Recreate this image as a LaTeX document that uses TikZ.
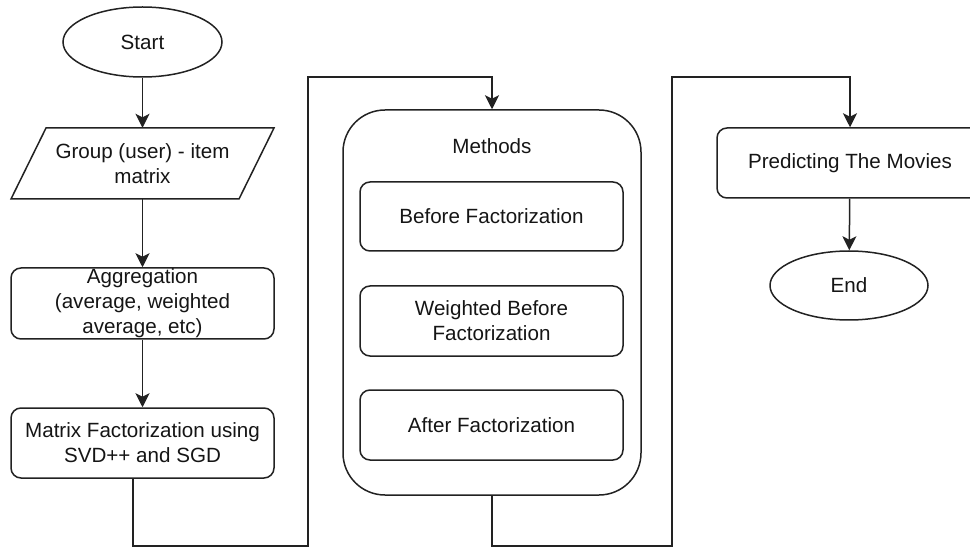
\documentclass[tikz,border=0pt]{standalone}
\usepackage{fontspec}
\setmainfont{Liberation Sans}
\usetikzlibrary{shapes.geometric,arrows.meta}
\definecolor{ln}{HTML}{222222}
\definecolor{tx}{HTML}{151515}
\tikzset{
  base/.style={draw=ln, line width=1.5pt, inner sep=0pt, text=tx, align=center,
    font=\fontsize{20.6}{25}\selectfont},
  term/.style={base, ellipse},
  proc/.style={base, rectangle, rounded corners=10pt},
  grp/.style={base, rectangle, rounded corners=42pt},
  ghost/.style={rectangle, inner sep=0pt, text=tx, align=center,
    font=\fontsize{20.6}{25}\selectfont},
  conn/.style={draw=ln, line width=1.5pt, -{Stealth[length=14pt,width=14pt,inset=3.5pt]}},
  plain/.style={draw=ln, line width=1.5pt}
}
\begin{document}
\begin{tikzpicture}[x=1pt,y=-1pt]
\useasboundingbox (0,0) rectangle (970,548);
% left column
\node[term, minimum width=159pt, minimum height=70pt] (start) at (142.5,42) {Start};
\node[ghost, minimum width=263pt, minimum height=71pt] (group) at (142.5,163.5) {Group (user) - item\\matrix};
\draw[plain] (46,128) -- (274,128) -- (239,199) -- (11,199) -- cycle;
\node[proc, minimum width=263pt, minimum height=71pt] (agg) at (142.5,303.5) {Aggregation\\(average, weighted\\average, etc)};
\node[proc, minimum width=263pt, minimum height=70pt] (mf) at (142.5,443) {Matrix Factorization using\\SVD++ and SGD};
% methods group
\node[grp, minimum width=298pt, minimum height=385pt] (methods) at (492,302.5) {};
\node[ghost] (mlabel) at (492,146) {Methods};
\node[proc, minimum width=263pt, minimum height=69pt] (m1) at (491.5,216.5) {Before Factorization};
\node[proc, minimum width=263pt, minimum height=70pt] (m2) at (491.5,321) {Weighted Before\\Factorization};
\node[proc, minimum width=263pt, minimum height=70pt] (m3) at (491.5,425) {After Factorization};
% right column
\node[proc, minimum width=266pt, minimum height=70pt] (pred) at (850,163) {Predicting The Movies};
\node[term, minimum width=158pt, minimum height=69pt] (end) at (849,285.5) {End};
% routing points
\coordinate (b1) at (133,546);
\coordinate (b2) at (308,546);
\coordinate (t1) at (308,77);
\coordinate (b3) at (492,546);
\coordinate (b4) at (672,546);
\coordinate (t2) at (672,77);
% connectors
\draw[conn] (start) -- (group);
\draw[conn] (group) -- (agg);
\draw[conn] (agg) -- (mf);
\draw[conn] (mf.south -| b1) -- (b1) -- (b2) -- (t1) -| (methods.north);
\draw[conn] (methods.south) -- (b3) -- (b4) -- (t2) -| (pred.north);
\draw[conn] (pred) -- (end);
\end{tikzpicture}
\end{document}
